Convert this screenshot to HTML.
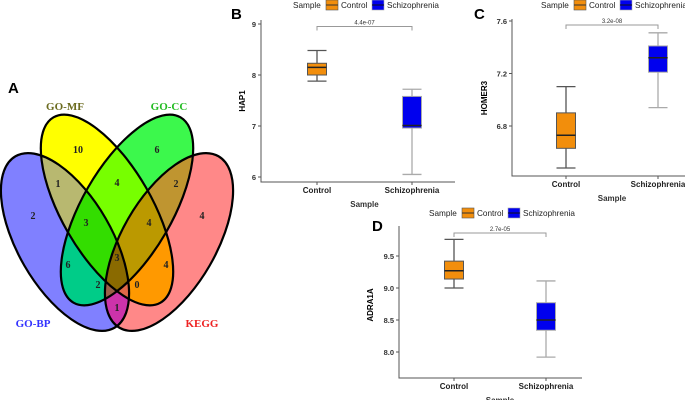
<!DOCTYPE html>
<html><head><meta charset="utf-8"><style>
html,body{margin:0;padding:0;background:#fff;}
svg{display:block;font-family:"Liberation Sans",Arial,sans-serif;}
</style></head><body>
<svg id="fig" width="685" height="400" viewBox="0 0 685 400">
<defs id="defs"></defs>
<g id="venn">
<text x="8" y="93" font-size="15" font-weight="bold">A</text>
<g id="regions"></g>
<g id="outlines" fill="none" stroke="#000" stroke-width="2.2"></g>
<g font-family="'Liberation Serif',serif" font-size="10" font-weight="bold" fill="#222" text-anchor="middle">
<text x="78" y="153">10</text><text x="157" y="153">6</text>
<text x="58" y="187">1</text><text x="117" y="186">4</text><text x="176" y="187">2</text>
<text x="33" y="219">2</text><text x="86" y="226">3</text><text x="149" y="226">4</text><text x="202" y="219">4</text>
<text x="68" y="268">6</text><text x="117" y="261">3</text><text x="166" y="268">4</text>
<text x="98" y="288">2</text><text x="137" y="288">0</text><text x="117" y="311">1</text>
</g>
<g font-family="'Liberation Serif',serif" font-size="11" font-weight="bold" text-anchor="middle">
<text x="65" y="110" fill="#6b6b1f">GO-MF</text>
<text x="169" y="110" fill="#22bb22">GO-CC</text>
<text x="33" y="327" fill="#3333ff">GO-BP</text>
<text x="202" y="327" fill="#ee2222">KEGG</text>
</g>
</g>
</svg>
<script>
// Panel B: HAP1
const bCategories = ["Control","Schizophrenia"];
const bWhiskerLow = [7.88, 6.05];
const bQ1 = [8.0, 6.96];
const bMedian = [8.15, 7.01];
const bQ3 = [8.23, 7.58];
const bWhiskerHigh = [8.48, 7.72];
const bTicks = [6,7,8,9];
const bTickLabels = ["6","7","8","9"];
const bPLabel = "4.4e-07";
const bBracket = 8.95;
// Panel C: HOMER3
const cCategories = ["Control","Schizophrenia"];
const cWhiskerLow = [6.48, 6.94];
const cQ1 = [6.63, 7.21];
const cMedian = [6.73, 7.32];
const cQ3 = [6.90, 7.41];
const cWhiskerHigh = [7.10, 7.51];
const cTicks = [6.8,7.2,7.6];
const cTickLabels = ["6.8","7.2","7.6"];
const cPLabel = "3.2e-08";
const cBracket = 7.57;
// Panel D: ADRA1A
const dCategories = ["Control","Schizophrenia"];
const dWhiskerLow = [9.0, 7.92];
const dQ1 = [9.14, 8.34];
const dMedian = [9.27, 8.5];
const dQ3 = [9.42, 8.77];
const dWhiskerHigh = [9.76, 9.11];
const dTicks = [8.0,8.5,9.0,9.5];
const dTickLabels = ["8.0","8.5","9.0","9.5"];
const dPLabel = "2.7e-05";
const dBracket = 9.86;

const NS = "http://www.w3.org/2000/svg";
const svg = document.getElementById("fig");
function mk(tag, attrs, parent, text){
  const e = document.createElementNS(NS, tag);
  for (const k in attrs) e.setAttribute(k, attrs[k]);
  if (text !== undefined) e.textContent = text;
  (parent||svg).appendChild(e);
  return e;
}

// Venn geometry (bitmask: BP=1, MF=2, CC=4, KEGG=8)
const ellipses = [
  {cx:65, cy:242, rx:47, ry:99, rot:-30, name:"venn-go-bp"},
  {cx:107, cy:210, rx:45, ry:107, rot:-30, name:"venn-go-mf"},
  {cx:127, cy:210, rx:45, ry:107, rot:30, name:"venn-go-cc"},
  {cx:169, cy:242, rx:47, ry:99, rot:30, name:"venn-kegg"}
];
const regionColors = {1:"#8080ff",2:"#ffff00",4:"#3cf84c",8:"#ff8888",3:"#b8b870",6:"#77ff00",
  12:"#bf9530",10:"#ff9900",5:"#00cc88",9:"#cc33aa",7:"#33dd00",14:"#bb9900",11:"#e06848",13:"#9a6048",15:"#8a6a00"};
const defs = document.getElementById("defs");
const regionsG = document.getElementById("regions");
const outlines = document.getElementById("outlines");
function ell(e, parent, extra){
  const a = Object.assign({cx:e.cx, cy:e.cy, rx:e.rx, ry:e.ry, transform:`rotate(${e.rot} ${e.cx} ${e.cy})`}, extra||{});
  return mk("ellipse", a, parent);
}
ellipses.forEach((e,i)=>{
  const cp = mk("clipPath",{id:"ce"+i},defs); ell(e,cp);
  const o = ell(e, outlines);
  
  
});
for (let m=1; m<16; m++){
  const mask = mk("mask",{id:"mk"+m, maskUnits:"userSpaceOnUse", x:0, y:0, width:300, height:400},defs);
  mk("rect",{x:0,y:0,width:300,height:400,fill:"#fff"},mask);
  ellipses.forEach((e,i)=>{ if(!(m & (1<<i))) ell(e,mask,{fill:"#000"}); });
  let parent = regionsG;
  ellipses.forEach((e,i)=>{ if(m & (1<<i)) parent = mk("g",{"clip-path":`url(#ce${i})`},parent); });
  const r = mk("rect",{x:0,y:0,width:300,height:400,fill:regionColors[m],mask:`url(#mk${m})`},parent);
  
  
}

const fills = ["#f28e0c","#0000ee"];
const whiskerCols = ["#555","#aaa"];

function panel(cfg, cats, wl, q1, med, q3, wh, ticks, tickLabels, pLabel, bracket){
  const g = mk("g", {});
  
  
  const y = v => cfg.y0 + (v - cfg.v0) * (cfg.y1 - cfg.y0) / (cfg.v1 - cfg.v0);
  const x = i => cfg.xc[0] + i * (cfg.xc[1] - cfg.xc[0]);
  const lg = mk("g", {}, g);
  
  
  const ly = cfg.legY;
  mk("text", {x: cfg.legX, y: ly+3, "font-size": 8.2, fill:"#222"}, lg, "Sample");
  const k1 = mk("rect", {x: cfg.legX+33, y: ly-5, width: 12, height: 10, fill: fills[0], stroke:"#555", "stroke-width":0.6}, lg);
  
  
  mk("line", {x1: cfg.legX+33, x2: cfg.legX+45, y1: ly, y2: ly, stroke:"#333", "stroke-width":1}, lg);
  mk("text", {x: cfg.legX+48, y: ly+3, "font-size": 8.2, fill:"#222"}, lg, "Control");
  const k2 = mk("rect", {x: cfg.legX+79, y: ly-5, width: 12, height: 10, fill: fills[1], stroke:"#aaa", "stroke-width":0.6}, lg);
  
  
  mk("line", {x1: cfg.legX+79, x2: cfg.legX+91, y1: ly, y2: ly, stroke:"#111", "stroke-width":1}, lg);
  mk("text", {x: cfg.legX+94, y: ly+3, "font-size": 8.2, fill:"#222"}, lg, "Schizophrenia");
  const pl = mk("text", {x: cfg.letX, y: cfg.letY, "font-size": 15, "font-weight":"bold"}, g, cfg.letter);
  
  
  const ax = mk("path", {d:`M${cfg.ax},${cfg.top} V${cfg.bottom} H${cfg.right}`, fill:"none", stroke:"#555", "stroke-width":1}, g);
  
  
  ticks.forEach((t,i)=>{
    mk("line", {x1: cfg.ax-3, x2: cfg.ax, y1: y(t), y2: y(t), stroke:"#555"}, g);
    const tl = mk("text", {x: cfg.ax-5, y: y(t)+3, "font-size": 7.5, "font-weight":"bold", "text-anchor":"end", fill:"#333"}, g, tickLabels[i]);
    
    
  });
  cats.forEach((c,i)=>{
    mk("line", {x1: x(i), x2: x(i), y1: cfg.bottom, y2: cfg.bottom+3, stroke:"#555"}, g);
    const xl = mk("text", {x: x(i), y: cfg.bottom+11, "font-size": 8, "font-weight":"bold", "text-anchor":"middle", fill:"#222"}, g, c);
    
    
    const bg = mk("g", {}, g);
    
    
    const w = 9.5;
    mk("line", {x1:x(i), x2:x(i), y1:y(wh[i]), y2:y(q3[i]), stroke:whiskerCols[i], "stroke-width":1.3}, bg);
    mk("line", {x1:x(i), x2:x(i), y1:y(q1[i]), y2:y(wl[i]), stroke:whiskerCols[i], "stroke-width":1.3}, bg);
    mk("line", {x1:x(i)-w, x2:x(i)+w, y1:y(wh[i]), y2:y(wh[i]), stroke:whiskerCols[i], "stroke-width":1.3}, bg);
    mk("line", {x1:x(i)-w, x2:x(i)+w, y1:y(wl[i]), y2:y(wl[i]), stroke:whiskerCols[i], "stroke-width":1.3}, bg);
    mk("rect", {x:x(i)-w, y:y(q3[i]), width:2*w, height:y(q1[i])-y(q3[i]), fill:fills[i], stroke:whiskerCols[i], "stroke-width":1}, bg);
    mk("line", {x1:x(i)-w, x2:x(i)+w, y1:y(med[i]), y2:y(med[i]), stroke:"#222", "stroke-width":1.5}, bg);
  });
  const br = mk("path", {d:`M${x(0)},${y(bracket)+4} V${y(bracket)} H${x(1)} V${y(bracket)+4}`, fill:"none", stroke:"#999", "stroke-width":1}, g);
  
  
  const pt = mk("text", {x:(x(0)+x(1))/2, y:y(bracket)-2, "font-size":6, "text-anchor":"middle", fill:"#333"}, g, pLabel);
  
  
  const yt = mk("text", {x:cfg.ytX, y:cfg.ytY, "font-size":8, "font-weight":"bold", "text-anchor":"middle", transform:`rotate(-90 ${cfg.ytX} ${cfg.ytY})`}, g, cfg.ytitle);
  
  
  const xt = mk("text", {x:(x(0)+x(1))/2, y:cfg.bottom+25, "font-size":8, "font-weight":"bold", "text-anchor":"middle", fill:"#333"}, g, "Sample");
  
  
}
panel({name:"boxplot-panel-b", letter:"B", letX:231, letY:19, legX:293, legY:5,
  v0:9, v1:6, y0:24, y1:177, ax:261, top:20, bottom:182, right:455, xc:[317,412],
  ytitle:"HAP1", ytX:245, ytY:101},
  bCategories,bWhiskerLow,bQ1,bMedian,bQ3,bWhiskerHigh,bTicks,bTickLabels,bPLabel,bBracket);
panel({name:"boxplot-panel-c", letter:"C", letX:474, letY:19, legX:541, legY:5,
  v0:7.6, v1:6.8, y0:21, y1:126, ax:512, top:19, bottom:176, right:690, xc:[566,658],
  ytitle:"HOMER3", ytX:487, ytY:98},
  cCategories,cWhiskerLow,cQ1,cMedian,cQ3,cWhiskerHigh,cTicks,cTickLabels,cPLabel,cBracket);
panel({name:"boxplot-panel-d", letter:"D", letX:372, letY:231, legX:429, legY:213,
  v0:9.5, v1:8.0, y0:256, y1:352, ax:399, top:226, bottom:378, right:582, xc:[454,546],
  ytitle:"ADRA1A", ytX:373, ytY:305},
  dCategories,dWhiskerLow,dQ1,dMedian,dQ3,dWhiskerHigh,dTicks,dTickLabels,dPLabel,dBracket);
</script>
</body></html>
